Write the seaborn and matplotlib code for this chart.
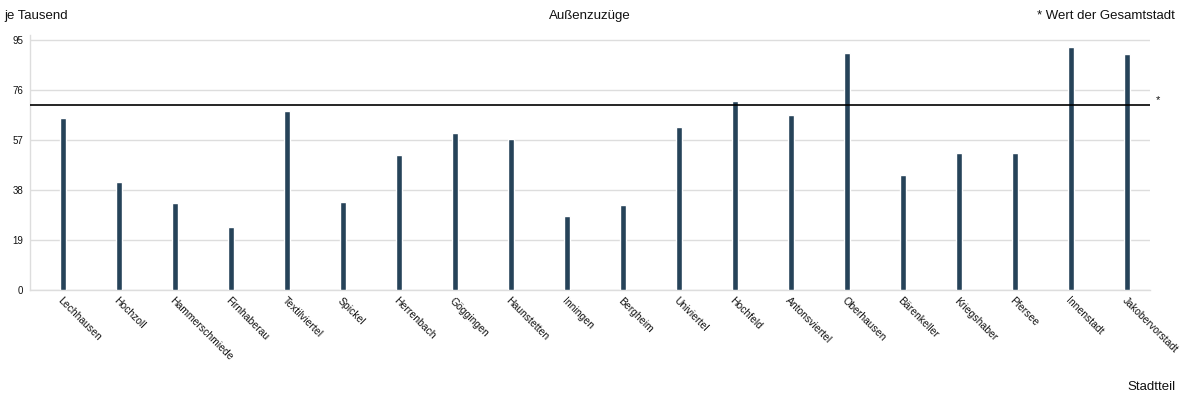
import matplotlib
matplotlib.use("Agg")
import matplotlib.pyplot as plt
import seaborn as sns
import pandas as pd

# ===============================
# Data (Außenzuzüge je Tausend)
# ===============================
stadtteile = ["Lechhausen", "Hochzoll", "Hammerschmiede", "Firnhaberau", "Textilviertel",
              "Spickel", "Herrenbach", "Göggingen", "Haunstetten", "Inningen",
              "Bergheim", "Univiertel", "Hochfeld", "Antonsviertel", "Oberhausen",
              "Bärenkeller", "Kriegshaber", "Pfersee", "Innenstadt", "Jakobervorstadt"]
werte = [65.5, 41.0, 33.1, 23.9, 68.0, 33.4, 51.3, 59.8, 57.4, 28.1,
         32.3, 61.9, 71.8, 66.5, 90.0, 43.7, 52.1, 52.1, 92.3, 89.7]
gesamtstadt = 70.3
y_ticks = [0, 19, 38, 57, 76, 95]

df = pd.DataFrame({"Stadtteil": stadtteile, "Wert": werte})

sns.set_style("white")
plt.rcParams["font.family"] = ["Liberation Sans", "DejaVu Sans"]
plt.rcParams["text.color"] = "#111111"
plt.rcParams["xtick.color"] = "#111111"
plt.rcParams["ytick.color"] = "#111111"

fig = plt.figure(figsize=(11.8, 3.97), dpi=100)
ax = fig.add_axes([0.0254, 0.2695, 0.9492, 0.642])

sns.barplot(x="Stadtteil", y="Wert", data=df, color="#264359", width=0.105,
            saturation=1, ax=ax, zorder=3)

ax.axhline(gesamtstadt, color="black", linewidth=1.2, zorder=4)
ax.text(1.005, gesamtstadt + 2, "*", transform=ax.get_yaxis_transform(),
        fontsize=8, ha="left", va="center")

ax.set_ylim(0, 96.9)
ax.set_xlim(-0.59, 19.41)
ax.set_yticks(y_ticks)
ax.set_yticklabels([str(t) for t in y_ticks], fontsize=7)
ax.yaxis.grid(True, color="#dddddd", linewidth=1, zorder=0)
ax.tick_params(axis="x", length=0, pad=4)
ax.tick_params(axis="y", length=0, pad=5)
ax.set_xticks(range(len(stadtteile)))
ax.set_xticklabels(stadtteile, rotation=-45, ha="left", va="top",
                   rotation_mode="anchor", fontsize=7.5)
ax.set_xlabel("")
ax.set_ylabel("")

for side in ["top", "right"]:
    ax.spines[side].set_visible(False)
for side in ["left", "bottom"]:
    ax.spines[side].set_color("#dddddd")
    ax.spines[side].set_linewidth(1)

fig.text(0.004, 0.96, "je Tausend", fontsize=9.5, ha="left", va="center")
fig.text(0.5, 0.96, "Außenzuzüge", fontsize=9.5, ha="center", va="center")
fig.text(0.996, 0.96, "* Wert der Gesamtstadt", fontsize=9.5, ha="right", va="center")
fig.text(0.996, 0.025, "Stadtteil", fontsize=9.5, ha="right", va="center")

fig.savefig("out.png", dpi=100)
